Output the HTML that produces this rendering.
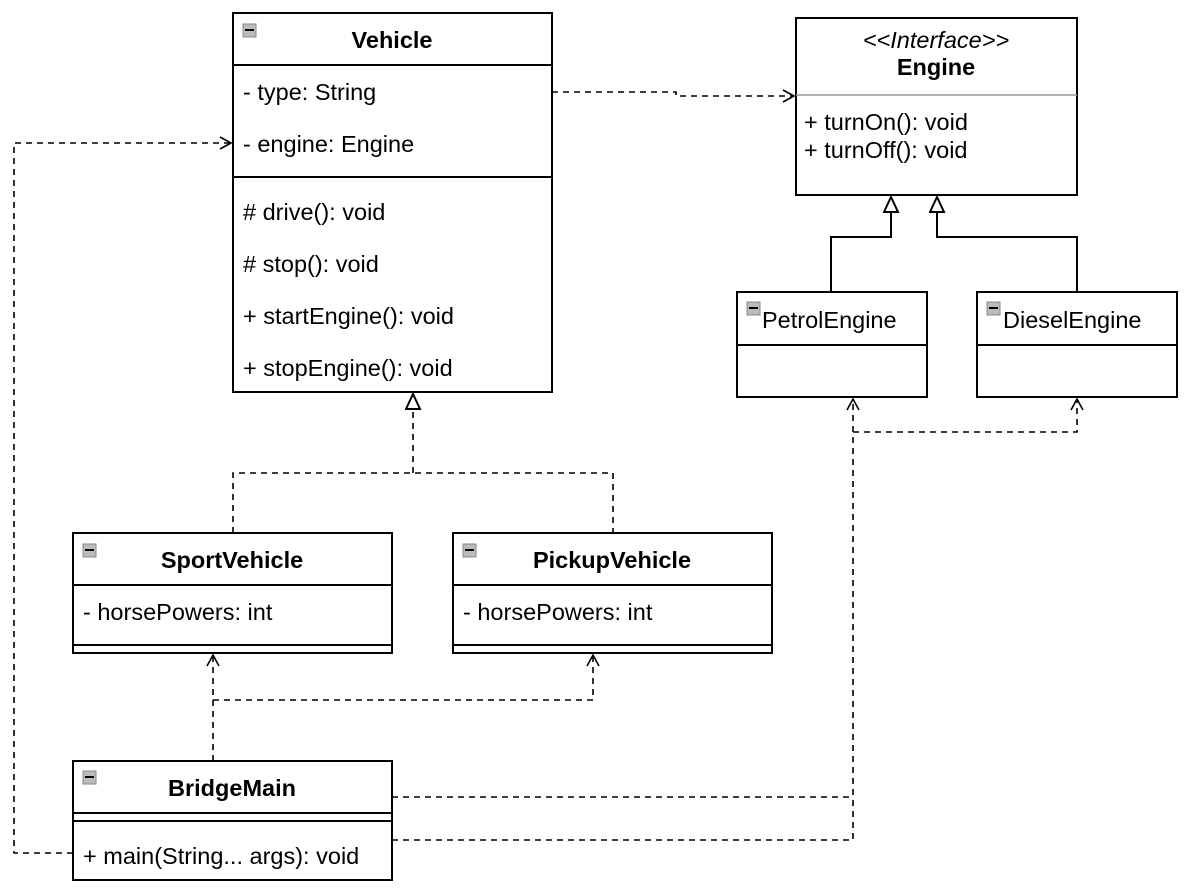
<!DOCTYPE html>
<html><head><meta charset="utf-8"><style>
html,body{margin:0;padding:0;background:#fff;}
svg{display:block;}
text{font-family:"Liberation Sans",Arial,sans-serif;font-size:23.5px;fill:#000;}
.b{font-weight:bold;}
</style></head><body>
<svg width="1189" height="890" viewBox="0 0 1189 890" xmlns="http://www.w3.org/2000/svg">
<defs>
<marker id="open" markerWidth="14" markerHeight="14" refX="12" refY="7" orient="auto" markerUnits="userSpaceOnUse">
<path d="M1,1 L12,7 L1,13" fill="none" stroke="#000" stroke-width="1.6"/></marker>
<marker id="tri" markerWidth="18" markerHeight="18" refX="16" refY="8" orient="auto" markerUnits="userSpaceOnUse">
<path d="M1,1 L16,8 L1,15 Z" fill="#fff" stroke="#000" stroke-width="2"/></marker>
</defs>
<g fill="#fff" stroke="#000" stroke-width="2">
<rect x="233" y="13" width="319" height="379"/>
<line x1="233" y1="65" x2="552" y2="65"/>
<line x1="233" y1="177" x2="552" y2="177"/>
<rect x="796" y="18" width="281" height="177"/>
<rect x="737" y="292" width="190" height="105"/>
<line x1="737" y1="345" x2="927" y2="345"/>
<rect x="977" y="292" width="200" height="105"/>
<line x1="977" y1="345" x2="1177" y2="345"/>
<rect x="73" y="533" width="319" height="120"/>
<line x1="73" y1="585" x2="392" y2="585"/>
<line x1="73" y1="645" x2="392" y2="645"/>
<rect x="453" y="533" width="319" height="120"/>
<line x1="453" y1="585" x2="772" y2="585"/>
<line x1="453" y1="645" x2="772" y2="645"/>
<rect x="73" y="761" width="319" height="119"/>
<line x1="73" y1="813" x2="392" y2="813"/>
<line x1="73" y1="821" x2="392" y2="821"/>
</g>
<line x1="796" y1="95" x2="1077" y2="95" stroke="#999" stroke-width="1.5"/>
<g fill="#bbb" stroke="#888" stroke-width="1">
<rect x="243" y="24" width="13" height="13"/>
<rect x="747" y="302" width="13" height="13"/>
<rect x="987" y="302" width="13" height="13"/>
<rect x="83" y="544" width="13" height="13"/>
<rect x="463" y="544" width="13" height="13"/>
<rect x="83" y="771" width="13" height="13"/>
</g>
<g stroke="#000" stroke-width="2">
<line x1="245" y1="30" x2="254" y2="30"/><line x1="749" y1="308" x2="758" y2="308"/>
<line x1="989" y1="308" x2="998" y2="308"/><line x1="85" y1="550" x2="94" y2="550"/>
<line x1="465" y1="550" x2="474" y2="550"/><line x1="85" y1="777" x2="94" y2="777"/>
</g>
<text x="392" y="48" class="b" text-anchor="middle">Vehicle</text>
<text x="243" y="100">- type: String</text>
<text x="243" y="152">- engine: Engine</text>
<text x="243" y="220"># drive(): void</text>
<text x="243" y="272"># stop(): void</text>
<text x="243" y="324">+ startEngine(): void</text>
<text x="243" y="376">+ stopEngine(): void</text>
<text x="936" y="48" text-anchor="middle" font-style="italic">&lt;&lt;Interface&gt;&gt;</text>
<text x="936" y="75" class="b" text-anchor="middle">Engine</text>
<text x="804" y="130">+ turnOn(): void</text>
<text x="804" y="158">+ turnOff(): void</text>
<text x="762" y="328">PetrolEngine</text>
<text x="1003" y="328">DieselEngine</text>
<text x="232" y="568" class="b" text-anchor="middle">SportVehicle</text>
<text x="83" y="620">- horsePowers: int</text>
<text x="612" y="568" class="b" text-anchor="middle">PickupVehicle</text>
<text x="463" y="620">- horsePowers: int</text>
<text x="232" y="796" class="b" text-anchor="middle">BridgeMain</text>
<text x="83" y="864">+ main(String... args): void</text>
<g fill="none" stroke="#000" stroke-width="1.6" stroke-dasharray="6,5">
<path d="M552,92 L676,92 L676,96 L794,96" marker-end="url(#open)"/>
<path d="M73,853 L14,853 L14,143 L231,143" marker-end="url(#open)"/>
<path d="M233,533 L233,473 L613,473 L613,533"/>
<path d="M413,473 L413,394" marker-end="url(#tri)"/>
<path d="M213,761 L213,655" marker-end="url(#open)"/>
<path d="M213,700 L593,700 L593,655" marker-end="url(#open)"/>
<path d="M392,797 L853,797"/>
<path d="M392,840 L853,840 L853,399" marker-end="url(#open)"/>
<path d="M853,432 L1077,432 L1077,399" marker-end="url(#open)"/>
</g>
<g fill="none" stroke="#000" stroke-width="2">
<path d="M831,292 L831,237 L891,237 L891,197" marker-end="url(#tri)"/>
<path d="M1077,292 L1077,237 L937,237 L937,197" marker-end="url(#tri)"/>
</g>
</svg>
</body></html>
